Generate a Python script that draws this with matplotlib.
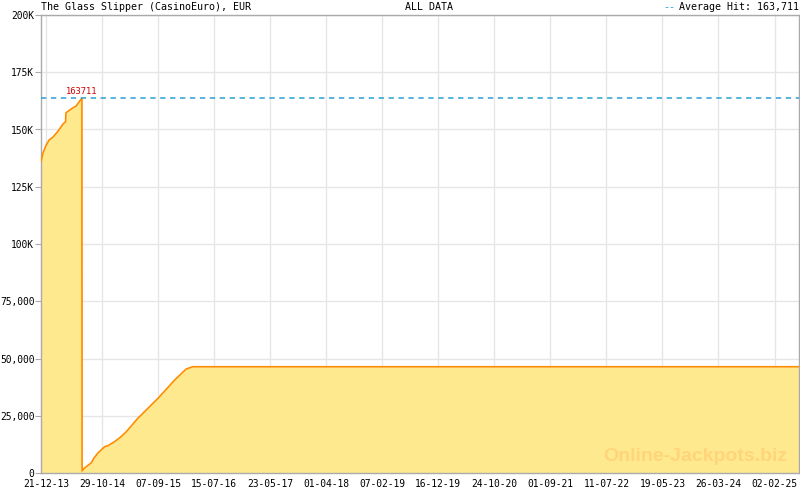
import matplotlib
matplotlib.use("Agg")
import matplotlib.pyplot as plt
import matplotlib.dates as mdates
import numpy as np
import datetime as dt

# ---- data ----
dates = ["2013-11-23", "2013-12-04", "2013-12-21", "2014-01-07", "2014-01-29",
         "2014-02-26", "2014-03-26", "2014-04-09", "2014-04-11", "2014-05-11",
         "2014-06-07", "2014-07-09", "2014-07-10", "2014-07-24", "2014-08-30",
         "2014-09-14", "2014-10-06", "2014-11-13", "2014-12-01", "2015-01-07",
         "2015-02-13", "2015-03-13", "2015-05-17", "2015-09-06", "2015-12-08",
         "2016-02-10", "2016-03-18", "2025-06-18"]
values = [136000, 139700, 143000, 145400, 146700,
          149300, 152400, 153400, 157300, 159000,
          160300, 163711, 900, 2200, 4400,
          6500, 8700, 11500, 11900, 13700,
          15900, 18000, 23900, 32600, 40600,
          45400, 46400, 46400]
average_hit = 163711
peak_label = "163711"
ytick_values = [0, 25000, 50000, 75000, 100000, 125000, 150000, 175000, 200000]
ytick_labels = ["0", "25,000", "50,000", "75,000", "100K", "125K", "150K", "175K", "200K"]
xtick_labels = ["21-12-13", "29-10-14", "07-09-15", "15-07-16", "23-05-17", "01-04-18",
                "07-02-19", "16-12-19", "24-10-20", "01-09-21", "11-07-22", "19-05-23",
                "26-03-24", "02-02-25"]
title_left = "The Glass Slipper (CasinoEuro), EUR"
title_mid = "ALL DATA"
legend_text = "Average Hit: 163,711"
watermark = "Online-Jackpots.biz"

# ---- plotting ----
mono = "DejaVu Sans Mono"
fs = 6.9
plt.rcParams['font.family'] = [mono]
fig = plt.figure(figsize=(8, 4.9), dpi=100)
W, H = 800, 490
ax = fig.add_axes([41 / W, (H - 473) / H, (799 - 41) / W, (473 - 15) / H])

x = [dt.datetime.strptime(d, "%Y-%m-%d") for d in dates]
xn = mdates.date2num(x)

ax.fill_between(xn, values, 0, color="#ffe98f", linewidth=0, zorder=2)
ax.plot(xn, values, color="#ff8c00", linewidth=1.2, zorder=3)
ax.axhline(average_hit, color="#2a9fd6", linestyle=(0, (3.5, 3)), linewidth=1.1, zorder=4)

ipeak = int(np.argmax(values))
ax.annotate(peak_label, (xn[ipeak], values[ipeak]), xytext=(0, 1.5), textcoords="offset points",
            ha="center", va="bottom", color="#cc0000", fontsize=6.3, family=mono, zorder=5)

ax.set_xlim(xn[0], xn[-1])
ax.set_ylim(0, 200000)

ax.set_yticks(ytick_values)
ax.set_yticklabels(ytick_labels)

xt = [dt.datetime.strptime(s, "%d-%m-%y") for s in xtick_labels]
xtn = mdates.date2num(xt)
ax.set_xticks(xtn)
ax.set_xticklabels(xtick_labels)
step = (xtn[1] - xtn[0]) / 7.0
minor = np.arange(xtn[0] - step * 7, xn[-1], step)
minor = minor[(minor >= xn[0]) & (minor <= xn[-1])]
ax.set_xticks(minor, minor=True)

ax.grid(True, which="major", color="#e6e6e6", linewidth=1, zorder=0)
ax.set_axisbelow(True)

for s in ax.spines.values():
    s.set_color("#aaaaaa")
    s.set_linewidth(1)
ax.tick_params(axis="y", which="major", direction="out", length=4, color="#aaaaaa",
               labelsize=fs, pad=0.8, labelcolor="black")
ax.tick_params(axis="x", which="major", direction="in", length=5, color="#aaaaaa",
               labelsize=fs, pad=4, labelcolor="black")
ax.tick_params(axis="x", which="minor", direction="in", length=3, color="#aaaaaa")

fig.text(41 / W, 1 - 7 / H, title_left, ha="left", va="center", fontsize=fs + 0.3, family=mono)
fig.text(405 / W, 1 - 7 / H, title_mid, ha="left", va="center", fontsize=fs + 0.3, family=mono)
fig.text(799 / W, 1 - 7 / H, legend_text, ha="right", va="center", fontsize=fs + 0.3, family=mono)
fig.text(663 / W, 1 - 7 / H, "--", ha="left", va="center", fontsize=fs + 0.3, family=mono, color="#2a9fd6")

ax.text(0.985, 0.035, watermark, transform=ax.transAxes, ha="right", va="center",
        fontsize=14, fontweight="bold", family="Liberation Sans", color="#ffd47a", zorder=6)

fig.savefig("out.png", dpi=100, facecolor="white")
